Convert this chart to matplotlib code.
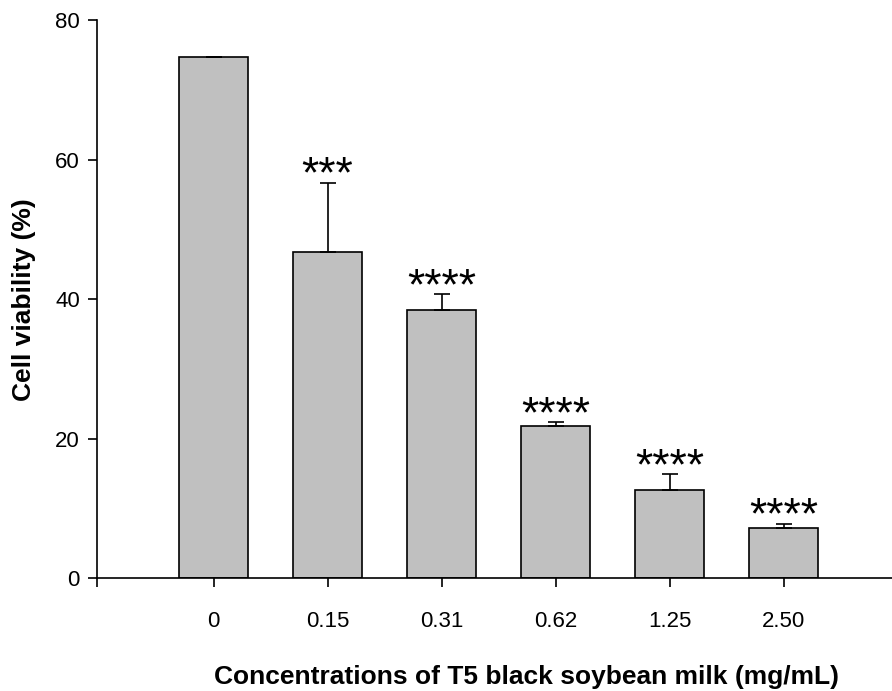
#!/usr/bin/env python3
"""Cell viability bar chart for T5 black soybean milk concentrations."""

import matplotlib
matplotlib.use("Agg")
import matplotlib.pyplot as plt
import numpy as np

concentrations = ["0", "0.15", "0.31", "0.62", "1.25", "2.50"]
viability = [74.7, 46.7, 38.4, 21.8, 12.6, 7.2]
sd_upper = [0.0, 10.0, 2.3, 0.6, 2.3, 0.6]
stars = ["", "***", "****", "****", "****", "****"]

plt.rcParams["font.family"] = ["Liberation Sans", "DejaVu Sans"]

fig = plt.figure(figsize=(8.92, 6.91), dpi=100)
ax = fig.add_axes([0.109, 0.163, 0.891, 0.808])

x = np.arange(len(concentrations))
ax.bar(x, viability, width=0.6, color="#c0c0c0", edgecolor="black", linewidth=1.2, zorder=2)
ax.errorbar(x, viability, yerr=[np.zeros(len(x)), sd_upper], fmt="none",
            ecolor="black", elinewidth=1.2, capsize=6, capthick=1.2, zorder=3)

for xi, v, e, s in zip(x, viability, sd_upper, stars):
    if s:
        ax.annotate(s, (xi, v + e), xytext=(0, -3.5), textcoords="offset points",
                    ha="center", va="baseline", fontsize=32)

ax.set_xlim(-1.02, 5.95)
ax.set_ylim(0, 80)
ax.set_yticks([0, 20, 40, 60, 80])
ax.set_xticks(np.concatenate([[-1.02], x]))
ax.set_xticklabels([""] + concentrations)
ax.tick_params(axis="both", direction="out", length=6.5, width=1.2, labelsize=16, pad=6)
ax.tick_params(axis="x", pad=17)

for side in ["top", "right"]:
    ax.spines[side].set_visible(False)
for side in ["left", "bottom"]:
    ax.spines[side].set_linewidth(1.2)

ax.set_xlabel("Concentrations of T5 black soybean milk (mg/mL)", fontsize=19, fontweight="bold", labelpad=24)
ax.xaxis.label.set_x(0.54)
ax.set_ylabel("Cell viability (%)", fontsize=19, fontweight="bold", labelpad=14)

fig.savefig("out.png", dpi=100)
